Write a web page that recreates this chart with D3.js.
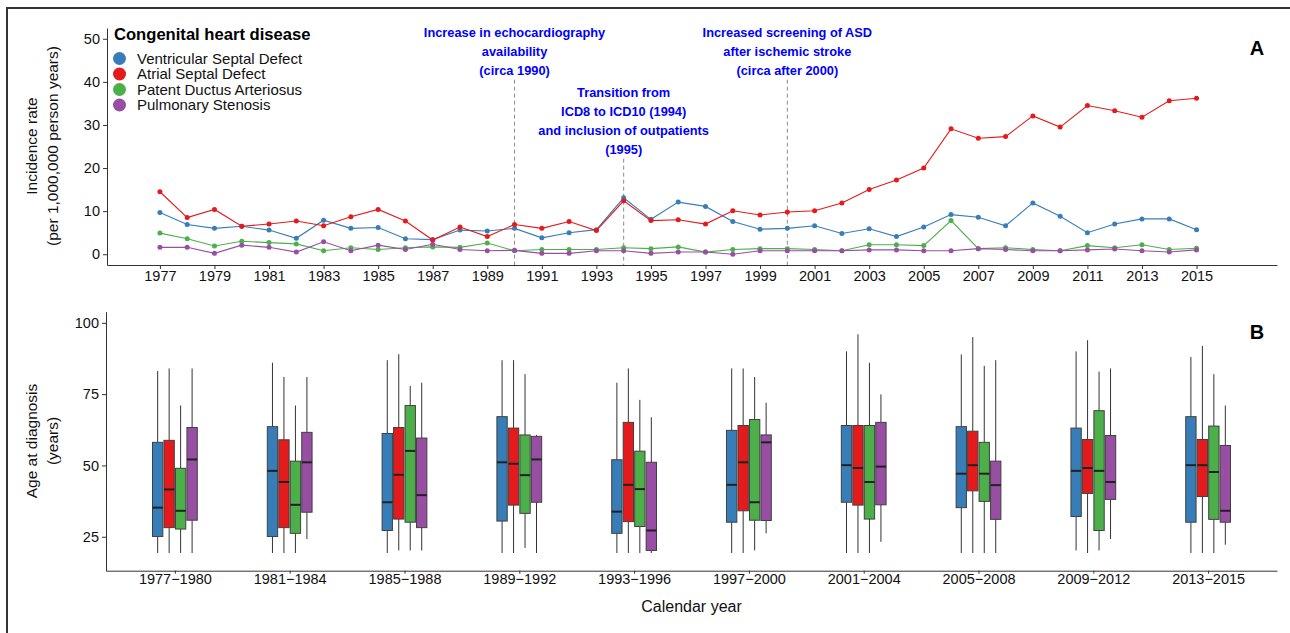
<!DOCTYPE html>
<html>
<head>
<meta charset="utf-8">
<script src="https://cdn.jsdelivr.net/npm/d3@7/dist/d3.min.js"></script>
<style>
  html, body { margin: 0; padding: 0; background: #fff; }
  svg { display: block; font-family: "Liberation Sans", Arial, Helvetica, sans-serif; }
</style>
</head>
<body>
<svg id="chart" width="1290" height="633"></svg>
<script>
// ---------- DATA ----------
const seriesNames = ["Ventricular Septal Defect", "Atrial Septal Defect", "Patent Ductus Arteriosus", "Pulmonary Stenosis"];
const seriesColors = ["#377EB8", "#E41A1C", "#4DAF4A", "#984EA3"];
const years = d3.range(1977, 2016);
const vsdRate = [9.7,6.9,6.0,6.5,5.6,3.7,7.9,6.0,6.2,3.6,3.4,5.6,5.4,6.0,3.8,5.0,5.7,13.1,8.1,12.1,11.1,7.6,5.8,6.0,6.6,4.8,5.9,4.1,6.3,9.2,8.6,6.6,11.9,8.8,5.0,7.0,8.2,8.2,5.7];
const asdRate = [14.5,8.5,10.4,6.5,7.0,7.7,6.6,8.7,10.4,7.7,3.3,6.3,4.1,6.9,6.0,7.6,5.5,12.4,7.8,8.0,7.0,10.1,9.1,9.8,10.1,11.9,15.0,17.2,20.0,29.1,26.9,27.3,32.1,29.5,34.5,33.3,31.8,35.6,36.2];
const pdaRate = [4.9,3.6,1.9,3.0,2.7,2.4,0.8,1.5,1.1,1.5,1.7,1.6,2.6,0.8,1.1,1.1,1.1,1.5,1.3,1.7,0.5,1.1,1.3,1.3,1.1,0.8,2.2,2.2,2.0,7.8,1.3,1.5,1.1,0.8,2.0,1.5,2.2,1.1,1.4];
const psRate  = [1.6,1.6,0.2,2.1,1.6,0.5,2.9,0.8,2.1,1.1,2.3,1.1,0.8,0.9,0.2,0.2,0.8,0.8,0.2,0.5,0.5,0.0,0.8,0.8,0.8,0.8,1.0,1.0,0.8,0.8,1.3,1.1,0.8,0.8,1.0,1.2,0.8,0.5,1.0];
const rateSeries = [vsdRate, asdRate, pdaRate, psRate];
const yearTicks = d3.range(1977, 2016, 2);
const rateTicks = [0, 10, 20, 30, 40, 50];

const annotations = [
  { year: 1990, lines: ["Increase in echocardiography", "availability", "(circa 1990)"], top: 0 },
  { year: 1994, lines: ["Transition from", "ICD8 to ICD10 (1994)", "and inclusion of outpatients", "(1995)"], top: 1 },
  { year: 2000, lines: ["Increased screening of ASD", "after ischemic stroke", "(circa after 2000)"], top: 0 }
];

const periods = ["1977\u22121980","1981\u22121984","1985\u22121988","1989\u22121992","1993\u22121996","1997\u22122000","2001\u22122004","2005\u22122008","2009\u22122012","2013\u22122015"];
// each box: [lower whisker, Q1, median, Q3, upper whisker]
const vsdAge = [[19.3,25.1,35.2,58.1,83.1],[19.3,25.1,48.1,63.6,86.0],[19.3,27.2,37.1,61.2,86.9],[19.3,30.5,51.1,67.1,86.9],[19.3,26.2,33.8,52.0,79.0],[19.3,30.1,43.2,62.3,84.0],[19.3,37.1,50.1,64.0,90.0],[19.3,35.2,47.1,63.6,88.9],[20.2,32.1,48.1,63.1,90.0],[19.3,30.1,50.1,67.1,88.0]];
const asdAge = [[19.3,28.2,41.6,58.8,84.0],[19.3,28.2,44.2,59.0,81.0],[20.2,31.2,46.7,63.3,89.0],[19.3,36.1,50.6,63.1,86.9],[19.3,30.3,43.2,65.1,84.0],[19.3,34.1,51.1,64.0,84.0],[19.3,36.1,49.1,64.0,96.0],[19.3,41.1,50.1,62.0,95.0],[19.3,40.2,49.1,59.1,93.9],[19.3,39.1,50.1,59.1,91.9]];
const pdaAge = [[19.3,27.7,34.1,49.0,71.0],[19.3,26.2,36.2,51.5,71.0],[20.2,30.1,55.1,71.0,77.9],[21.1,33.2,46.6,60.7,82.0],[19.3,28.6,41.7,55.0,73.0],[20.2,30.8,37.1,66.1,81.0],[19.3,31.2,44.2,64.0,86.0],[19.3,37.4,47.1,58.1,84.9],[20.2,27.2,48.1,69.2,82.9],[19.3,31.1,47.7,63.8,82.0]];
const psAge  = [[19.3,30.8,52.1,63.3,84.0],[24.2,33.6,51.1,61.6,81.0],[20.2,28.2,39.6,59.6,79.0],[19.3,37.1,52.1,60.2,60.7],[19.3,20.2,27.2,51.1,66.9],[26.2,30.7,58.1,60.7,72.0],[23.2,36.2,49.6,65.1,74.9],[19.3,31.1,43.1,51.5,86.9],[24.2,38.1,44.2,60.5,84.0],[22.2,30.1,34.1,57.0,71.0]];
const ageSeries = [vsdAge, asdAge, pdaAge, psAge];
const ageTicks = [25, 50, 75, 100];

// ---------- DRAW ----------
const svg = d3.select("#chart");
const axisColor = "#333";
const textColor = "#111";

// outer frame (top and left edges visible)
svg.append("path").attr("d", "M6,8H1290M7,8V633").attr("fill", "none").attr("stroke", "#333").attr("stroke-width", 2);

// ===== Panel A =====
const xA = d3.scaleLinear().domain([1975.06, 2017.95]).range([107, 1277]);
const yA = d3.scaleLinear().domain([-2.5, 52.5]).range([265, 28]);

function styleAxis(g) {
  g.select(".domain").attr("stroke", axisColor).attr("stroke-width", 1);
  g.selectAll(".tick line").attr("stroke", axisColor);
  g.selectAll(".tick text").attr("fill", textColor).style("font-size", "14.5px").style("font-family", "'Liberation Sans', Arial, sans-serif");
}

svg.append("g").attr("transform", "translate(0,265)")
  .call(d3.axisBottom(xA).tickValues(yearTicks).tickFormat(d3.format("d")).tickSize(4).tickPadding(2).tickSizeOuter(0))
  .call(styleAxis);
svg.append("g").attr("transform", "translate(107,0)")
  .call(d3.axisLeft(yA).tickValues(rateTicks).tickSize(4).tickPadding(3).tickSizeOuter(0))
  .call(styleAxis);

// annotations
const annoG = svg.append("g");
annotations.forEach(a => {
  const x = xA(a.year);
  const y0 = a.top ? 92.7 : 32.7;
  a.lines.forEach((t, i) => {
    annoG.append("text").attr("x", x).attr("y", y0 + i * 19).attr("dy", "0.35em")
      .attr("text-anchor", "middle").attr("fill", "#0000FF").style("font-weight", "bold").style("font-size", "12.8px").text(t);
  });
  const lineTop = y0 + (a.lines.length - 1) * 19 + 9;
  annoG.append("line").attr("x1", x).attr("x2", x).attr("y1", lineTop).attr("y2", 265)
    .attr("stroke", "#8c8c8c").attr("stroke-width", 1).attr("stroke-dasharray", "4,3");
});

// lines and points
const lineGen = d3.line().x((d, i) => xA(years[i])).y(d => yA(d));
rateSeries.forEach((s, k) => {
  svg.append("path").datum(s).attr("d", lineGen).attr("fill", "none")
    .attr("stroke", seriesColors[k]).attr("stroke-width", 1.1);
  svg.append("g").selectAll("circle").data(s).join("circle")
    .attr("cx", (d, i) => xA(years[i])).attr("cy", d => yA(d)).attr("r", 2.5)
    .attr("fill", seriesColors[k]);
});

// legend
const leg = svg.append("g");
leg.append("text").attr("x", 114).attr("y", 34).attr("dy", "0.35em").attr("fill", "#000")
  .style("font-weight", "bold").style("font-size", "16.6px").text("Congenital heart disease");
seriesNames.forEach((n, i) => {
  const cy = 58.5 + i * 15.5;
  leg.append("circle").attr("cx", 119.5).attr("cy", cy).attr("r", 6.5).attr("fill", seriesColors[i]);
  leg.append("text").attr("x", 137).attr("y", cy).attr("dy", "0.35em").attr("fill", textColor)
    .style("font-size", "15px").text(n);
});

// y titles
function yTitle(lines, cy) {
  const xs = [32, 53];
  lines.forEach((t, i) => {
    svg.append("text").attr("transform", `translate(${xs[i]},${cy}) rotate(-90)`).attr("dy", "0.35em")
      .attr("text-anchor", "middle").attr("fill", textColor).style("font-size", "15.5px").text(t);
  });
}
yTitle(["Incidence rate", "(per 1,000,000 person years)"], 146);

svg.append("text").attr("x", 1257).attr("y", 48).attr("dy", "0.35em").attr("text-anchor", "middle")
  .style("font-weight", "bold").style("font-size", "20px").attr("fill", "#000").text("A");

// ===== Panel B =====
const xB = d3.scalePoint().domain(periods).range([106, 1277]).padding(0.6);
const yB = d3.scaleLinear().domain([13.1, 103.9]).range([570.7, 311.7]);
const dodge = xB.step() * 0.1;
const boxW = dodge * 0.9;

svg.append("g").attr("transform", "translate(0,570.7)")
  .call(d3.axisBottom(xB).tickSize(3).tickPadding(0).tickSizeOuter(0))
  .call(styleAxis);
svg.append("g").attr("transform", "translate(106,0)")
  .call(d3.axisLeft(yB).tickValues(ageTicks).tickSize(4).tickPadding(3).tickSizeOuter(0))
  .call(styleAxis);

ageSeries.forEach((s, k) => {
  const g = svg.append("g");
  s.forEach((b, i) => {
    const cx = xB(periods[i]) + (k - 1.5) * dodge;
    g.append("line").attr("x1", cx).attr("x2", cx).attr("y1", yB(b[0])).attr("y2", yB(b[1]))
      .attr("stroke", "#333").attr("stroke-width", 1);
    g.append("line").attr("x1", cx).attr("x2", cx).attr("y1", yB(b[3])).attr("y2", yB(b[4]))
      .attr("stroke", "#333").attr("stroke-width", 1);
    g.append("rect").attr("x", cx - boxW / 2).attr("width", boxW)
      .attr("y", yB(b[3])).attr("height", yB(b[1]) - yB(b[3]))
      .attr("fill", seriesColors[k]).attr("stroke", "#404040").attr("stroke-width", 1);
    g.append("line").attr("x1", cx - boxW / 2).attr("x2", cx + boxW / 2).attr("y1", yB(b[2])).attr("y2", yB(b[2]))
      .attr("stroke", "#222").attr("stroke-width", 2);
  });
});

yTitle(["Age at diagnosis", "(years)"], 441);

svg.append("text").attr("x", 691.5).attr("y", 606).attr("dy", "0.35em").attr("text-anchor", "middle")
  .attr("fill", textColor).style("font-size", "16px").text("Calendar year");

svg.append("text").attr("x", 1257).attr("y", 332).attr("dy", "0.35em").attr("text-anchor", "middle")
  .style("font-weight", "bold").style("font-size", "20px").attr("fill", "#000").text("B");
</script>
</body>
</html>
